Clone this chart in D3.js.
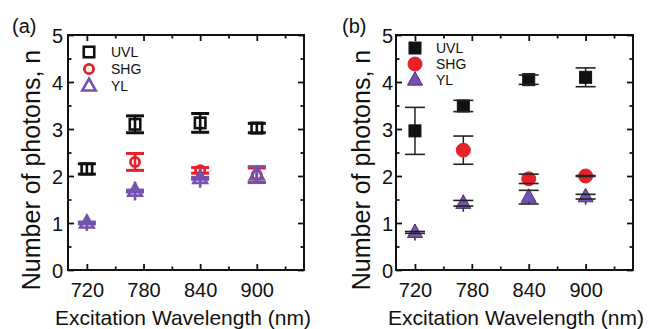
<!DOCTYPE html>
<html>
<head>
<meta charset="utf-8">
<script src="https://cdn.jsdelivr.net/npm/d3@7"></script>
<style>
  html, body { margin: 0; padding: 0; background: #fff; }
  svg { display: block; font-family: "Liberation Sans", Arial, sans-serif; }
</style>
</head>
<body>
<svg id="chart" width="649" height="329"></svg>
<script>
// ---------- data ----------
const seriesNames = ["UVL", "SHG", "YL"];
const tickWavelengths = [720, 780, 840, 900];
const minorWavelengths = [750, 810, 870, 930];
const wavelengths = [720, 771, 840, 900];   // measured excitation positions
const yTicks = [0, 1, 2, 3, 4, 5];
const yMinor = [0.5, 1.5, 2.5, 3.5, 4.5];

// panel (a)
const aUVL    = [2.15, 3.10, 3.13, 3.02];
const aUVLErr = [0.11, 0.18, 0.20, 0.10];
const aUVLCap = [0.11, 0.18, 0.20, 0.10];
const aSHG    = [null, 2.30, 2.12, 2.02];
const aSHGErr = [null, 0.18, 0.06, 0.15];
const aSHGCap = [null, 0.18, 0.06, 0.15];
const aYL     = [1.00, 1.68, 1.95, 2.03];
const aYLErr  = [0.17, 0.20, 0.20, 0.17];
const aYLCap  = [0.02, 0.02, 0.02, 0.17];

// panel (b)
const bUVL    = [2.96, 3.49, 4.05, 4.10];
const bUVLErr = [0.50, 0.12, 0.10, 0.20];
const bUVLCap = [0.50, 0.12, 0.10, 0.20];
const bSHG    = [null, 2.55, 1.94, 2.00];
const bSHGErr = [null, 0.30, 0.10, 0.13];
const bSHGCap = [null, 0.30, 0.10, 0.01];
const bYL     = [0.80, 1.42, 1.55, 1.56];
const bYLErr  = [0.17, 0.18, 0.15, 0.17];
const bYLCap  = [0.02, 0.06, 0.145, 0.05];

const colors = { UVL: "#111111", SHG: "#e8202a", YL: "#7452ae" };

// ---------- drawing ----------
const svg = d3.select("#chart");
const FONT = '"Liberation Sans", Arial, sans-serif';

function build(vals, err, cap) {
  return wavelengths.map((w, i) => ({ w, v: vals[i], e: err[i], c: cap[i] }))
                    .filter(d => d.v != null);
}

function marker(g, name, cx, cy, filled, col) {
  if (name === "UVL") {
    const s = filled ? 12 : 10.5;
    g.append("rect").attr("x", cx - s / 2).attr("y", cy - s / 2)
      .attr("width", s).attr("height", s)
      .attr("fill", filled ? col : "none")
      .attr("stroke", col).attr("stroke-width", filled ? 1 : 2.6);
  } else if (name === "SHG") {
    const r = filled ? 7 : 4.6;
    g.append("circle").attr("cx", cx).attr("cy", cy).attr("r", r)
      .attr("fill", filled ? col : "none")
      .attr("stroke", col).attr("stroke-width", filled ? 1 : 2.8);
  } else {
    const w = filled ? 15 : 13.5, h = filled ? 13.5 : 12;
    const pts = [[cx, cy - h * 0.62], [cx - w / 2, cy + h * 0.38], [cx + w / 2, cy + h * 0.38]];
    g.append("path").attr("d", "M" + pts.map(p => p.join(",")).join("L") + "Z")
      .attr("fill", filled ? col : "none")
      .attr("stroke", filled ? "#4a2f86" : col)
      .attr("stroke-width", filled ? 1 : 2.6)
      .attr("stroke-linejoin", "miter");
  }
}

function panel(opt) {
  const x = d3.scaleLinear().domain([700, 950]).range([opt.x0, opt.x1]);
  const y = d3.scaleLinear().domain([0, 5]).range([270, 35]);
  const g = svg.append("g");

  // axes: major/minor ticks inward on all four sides
  g.append("g").attr("transform", "translate(0,270)")
    .call(d3.axisBottom(x).tickValues(tickWavelengths).tickSize(-6).tickPadding(12.3)
      .tickFormat(d3.format("d")));
  g.append("g").attr("transform", "translate(0,270)")
    .call(d3.axisBottom(x).tickValues(minorWavelengths).tickSize(-3.5).tickFormat(""));
  g.append("g").attr("transform", "translate(0,35)")
    .call(d3.axisTop(x).tickValues(tickWavelengths).tickSize(-6).tickFormat(""));
  g.append("g").attr("transform", "translate(0,35)")
    .call(d3.axisTop(x).tickValues(minorWavelengths).tickSize(-3.5).tickFormat(""));
  const left = g.append("g").attr("transform", `translate(${opt.x0},0)`)
    .call(d3.axisLeft(y).tickValues(yTicks).tickSize(-6).tickPadding(opt.ypad)
      .tickFormat(d3.format("d")));
  g.append("g").attr("transform", `translate(${opt.x0},0)`)
    .call(d3.axisLeft(y).tickValues(yMinor).tickSize(-3.5).tickFormat(""));
  g.append("g").attr("transform", `translate(${opt.x1},0)`)
    .call(d3.axisRight(y).tickValues(yTicks).tickSize(-6).tickFormat(""));
  g.append("g").attr("transform", `translate(${opt.x1},0)`)
    .call(d3.axisRight(y).tickValues(yMinor).tickSize(-3.5).tickFormat(""));

  g.selectAll(".domain").remove();
  g.selectAll(".tick line").attr("stroke", "#111").attr("stroke-width", 1.8);
  g.selectAll(".tick text").attr("fill", "#111").style("font-size", "20px").style("font-family", FONT);
  left.selectAll(".tick text").attr("dy", "0.36em");

  g.append("rect").attr("x", opt.x0).attr("y", 35)
    .attr("width", opt.x1 - opt.x0).attr("height", 235)
    .attr("fill", "none").attr("stroke", "#111").attr("stroke-width", 2);

  // data
  const filled = opt.filled;
  const capW = 18;
  const layer = g.append("g");
  opt.series.forEach(s => {
    const col = colors[s.name];
    const barCol = filled ? "#222" : col;
    const bw = filled ? 1.5 : 2.6;
    const data = build(s.v, s.e, s.c);
    data.forEach(d => {
      layer.append("line").attr("x1", x(d.w)).attr("x2", x(d.w))
        .attr("y1", y(d.v + d.e)).attr("y2", y(d.v - d.e))
        .attr("stroke", barCol).attr("stroke-width", bw);
    });
    if (!filled) {
      data.forEach(d => {
        [d.v + d.c, d.v - d.c].forEach(cv => {
          layer.append("line").attr("x1", x(d.w) - capW / 2).attr("x2", x(d.w) + capW / 2)
            .attr("y1", y(cv)).attr("y2", y(cv))
            .attr("stroke", barCol).attr("stroke-width", 3);
        });
      });
    }
    data.forEach(d => marker(layer, s.name, x(d.w), y(d.v), filled, col));
    if (filled) {
      data.forEach(d => {
        [d.v + d.c, d.v - d.c].forEach(cv => {
          layer.append("line").attr("x1", x(d.w) - 10).attr("x2", x(d.w) + 10)
            .attr("y1", y(cv)).attr("y2", y(cv))
            .attr("stroke", barCol).attr("stroke-width", 1.6);
        });
      });
    }
  });

  // legend
  seriesNames.forEach((n, i) => {
    const ly = opt.legY + i * opt.legStep;
    marker(g, n, opt.legX, ly, filled, colors[n]);
    g.append("text").attr("x", opt.legX + opt.legDx).attr("y", ly).attr("dy", "0.36em")
      .style("font-size", "14px").style("font-family", FONT).attr("fill", "#111").text(n);
  });

  // axis titles
  g.append("text").attr("x", opt.xlabX).attr("y", 324.5).attr("text-anchor", "middle")
    .style("font-size", "21px").style("font-family", FONT).attr("fill", "#111")
    .text("Excitation Wavelength (nm)");
  g.append("text").attr("transform", `translate(${opt.ylabX},170) rotate(-90)`)
    .attr("text-anchor", "middle")
    .style("font-size", "25px").style("font-family", FONT).attr("fill", "#111")
    .text("Number of photons, n");
  g.append("text").attr("x", opt.tagX).attr("y", 33)
    .style("font-size", "20px").style("font-family", FONT).attr("fill", "#111")
    .text(opt.tag);
}

panel({
  x0: 68, x1: 304, filled: false, ypad: 5, tag: "(a)", tagX: 12,
  xlabX: 183, ylabX: 40, legX: 89, legY: 52, legStep: 17, legDx: 22,
  series: [
    { name: "UVL", v: aUVL, e: aUVLErr, c: aUVLCap },
    { name: "SHG", v: aSHG, e: aSHGErr, c: aSHGCap },
    { name: "YL",  v: aYL,  e: aYLErr,  c: aYLCap }
  ]
});
panel({
  x0: 396, x1: 633, filled: true, ypad: 3, tag: "(b)", tagX: 342,
  xlabX: 516, ylabX: 370, legX: 415, legY: 48, legStep: 16, legDx: 21,
  series: [
    { name: "UVL", v: bUVL, e: bUVLErr, c: bUVLCap },
    { name: "SHG", v: bSHG, e: bSHGErr, c: bSHGCap },
    { name: "YL",  v: bYL,  e: bYLErr,  c: bYLCap }
  ]
});
</script>
</body>
</html>
